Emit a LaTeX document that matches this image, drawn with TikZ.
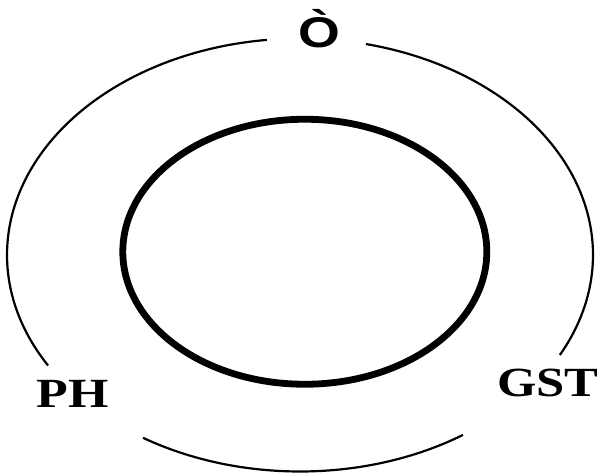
\documentclass[tikz,border=0pt]{standalone}
\usepackage{fontspec}
\setmainfont{Liberation Serif}
\newfontfamily\sansf{Liberation Sans}
\begin{document}
\begin{tikzpicture}[x=1pt,y=1pt,
  outerline/.style={line width=2.2pt},
  innerline/.style={line width=6.8pt},
  lab/.style={inner sep=0pt, anchor=base, font=\fontsize{41.5}{41.5}\selectfont\bfseries},
  toplab/.style={inner sep=0pt, anchor=base, font=\sansf\bfseries\fontsize{43}{43}\selectfont}]
\useasboundingbox (0,0) rectangle (601,475);
\coordinate (oc) at (300,220);
\coordinate (ic) at (304.8,223.25);
% outer ring, broken into three arcs
\draw[outerline] (oc) ++(77:293 and 216.5) arc[start angle=77, end angle=-27.5, x radius=293, y radius=216.5];
\draw[outerline] (oc) ++(96.5:293 and 216.5) arc[start angle=96.5, end angle=210.7, x radius=293, y radius=216.5];
\draw[outerline] (oc) ++(237.6:293 and 216.5) arc[start angle=237.6, end angle=303.8, x radius=293, y radius=216.5];
% inner ring
\draw[innerline] (ic) ellipse[x radius=182, y radius=132.5];
% labels
\node[toplab] (o) at (319,427.5) {\scalebox{1.25}[1]{Ò}};
\node[lab] (ph) at (72.5,68) {\scalebox{1.25}[1]{PH}};
\node[lab] (gst) at (548,79) {\scalebox{1.22}[1]{GST}};
\end{tikzpicture}
\end{document}
